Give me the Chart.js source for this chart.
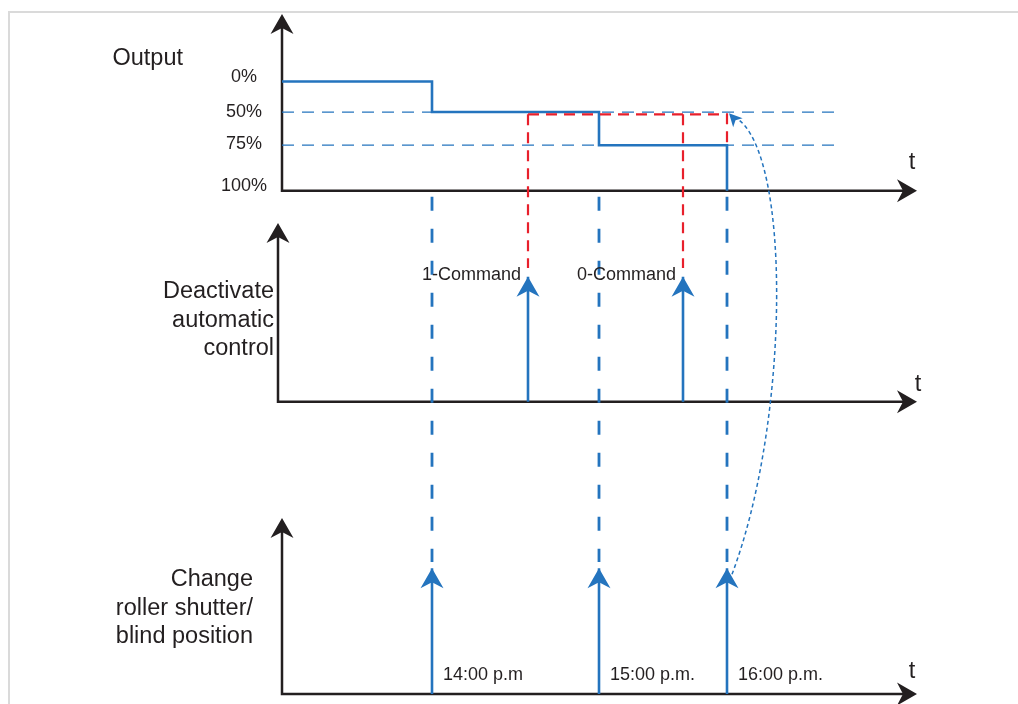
<!DOCTYPE html>
<html>
<head>
<meta charset="utf-8">
<script src="https://cdn.jsdelivr.net/npm/chart.js@4/dist/chart.umd.min.js"></script>
<style>
  html, body { margin: 0; padding: 0; background: #fff; }
  canvas { display: block; }
</style>
</head>
<body>
<canvas id="diagram" width="1018" height="704"></canvas>
<script>
// the drawing is schematic: t and the output axis are not to scale,
// so positions below are read off the picture in "diagram units"
const levelLabels = ['0%', '50%', '75%', '100%'];
const levelHeights = [3.4, 2.45, 1.42, 0];

const outputTimes = [0, 3.0, 6.34, 8.9];
const outputLevels = ['0%', '50%', '75%', '100%'];

const guideLevels = ['50%', '75%'];
const guideEnd = 11.12;

const eventTimes = [3.0, 6.34, 8.9];
const eventLabels = ['14:00 p.m', '15:00 p.m.', '16:00 p.m.'];

const commandTimes = [4.92, 8.02];
const commandLabels = ['1-Command', '0-Command'];

// red dashed: position held after the 1-Command, until 16:00
const holdLevel = 2.38;
const holdEnd = 8.9;

const BLUE = '#2474be';
const RED = '#e8202c';
const INK = '#231f20';
const FONT = '"Liberation Sans", Arial, sans-serif';

const heightOf = lbl => levelHeights[levelLabels.indexOf(lbl)];

const datasets = [];

guideLevels.forEach(l => {
    datasets.push({
        data: [{x: 0, y: heightOf(l)}, {x: guideEnd, y: heightOf(l)}],
        yAxisID: 'yOut', borderColor: BLUE, borderWidth: 1.3, borderDash: [12, 8]
    });
});

datasets.push({
    data: [{x: commandTimes[0], y: holdLevel}, {x: holdEnd, y: holdLevel}, {x: holdEnd, y: heightOf('75%')}],
    yAxisID: 'yOut', borderColor: RED, borderWidth: 2.2, borderDash: [11, 7]
});

datasets.push({
    data: outputTimes.map((t, i) => ({x: t, y: heightOf(outputLevels[i])})),
    yAxisID: 'yOut', borderColor: BLUE, borderWidth: 2.6, stepped: true
});

commandTimes.forEach(t => {
    datasets.push({
        data: [{x: t, y: 0}, {x: t, y: 1}],
        yAxisID: 'yCmd', borderColor: BLUE, borderWidth: 2.6, arrow: true
    });
});

eventTimes.forEach(t => {
    datasets.push({
        data: [{x: t, y: 0}, {x: t, y: 1}],
        yAxisID: 'yPos', borderColor: BLUE, borderWidth: 2.6, arrow: true
    });
});

function head(ctx, x, y, angle, len, half, notch, color) {
    ctx.save();
    ctx.translate(x, y);
    ctx.rotate(angle);
    ctx.beginPath();
    ctx.moveTo(0, 0);
    ctx.lineTo(-len, -half);
    ctx.lineTo(-len + notch, 0);
    ctx.lineTo(-len, half);
    ctx.closePath();
    ctx.fillStyle = color;
    ctx.fill();
    ctx.restore();
}

function dashed(ctx, x, y1, y2, color, width, dash) {
    ctx.save();
    ctx.strokeStyle = color;
    ctx.lineWidth = width;
    ctx.setLineDash(dash);
    ctx.beginPath();
    ctx.moveTo(x, y1);
    ctx.lineTo(x, y2);
    ctx.stroke();
    ctx.restore();
}

const diagram = {
    id: 'diagram',
    beforeDatasetsDraw(chart) {
        const {ctx} = chart;
        const {x, yOut, yCmd, yPos} = chart.scales;
        ctx.save();

        // frame
        ctx.strokeStyle = '#dadada';
        ctx.lineWidth = 2;
        ctx.beginPath();
        ctx.moveTo(9, chart.height);
        ctx.lineTo(9, 12);
        ctx.lineTo(chart.width, 12);
        ctx.stroke();

        const right = x.getPixelForValue(x.max);
        const axes = [[yOut, 0, -5, -28], [yCmd, -4, 1, -17], [yPos, 0, -5, -22]];
        axes.forEach(([s, dx, tx, ty]) => {
            const x0 = x.getPixelForValue(0) + dx;
            const y0 = s.getPixelForValue(0);
            const top = s.getPixelForValue(s.max);
            ctx.strokeStyle = INK;
            ctx.lineWidth = 2.5;
            ctx.beginPath();
            ctx.moveTo(x0, top + 12);
            ctx.lineTo(x0, y0);
            ctx.lineTo(right - 12, y0);
            ctx.stroke();
            head(ctx, x0, top, -Math.PI / 2, 20, 11.5, 6, INK);
            head(ctx, right, y0, 0, 20, 11.5, 6, INK);
            ctx.fillStyle = INK;
            ctx.font = '23.5px ' + FONT;
            ctx.textAlign = 'center';
            ctx.textBaseline = 'middle';
            ctx.fillText('t', right + tx, y0 + ty);
        });

        // panel titles
        const x0 = x.getPixelForValue(0);
        const titles = [
            [yOut, ['Output'], -99, 4.1],
            [yCmd, ['Deactivate', 'automatic', 'control'], -8, 0.65],
            [yPos, ['Change', 'roller shutter/', 'blind position'], -29, 0.68]
        ];
        ctx.textAlign = 'right';
        titles.forEach(([s, lines, dx, mid]) => {
            const cy = s.getPixelForValue(mid);
            lines.forEach((ln, i) => {
                ctx.fillText(ln, x0 + dx, cy + (i - (lines.length - 1) / 2) * 28.5);
            });
        });

        // output ticks (labels sit a little above the extreme lines)
        const nudge = [-4, 0, -1, -5];
        ctx.font = '18px ' + FONT;
        ctx.textAlign = 'center';
        levelLabels.forEach((l, i) => {
            ctx.fillText(l, x0 - 38, yOut.getPixelForValue(levelHeights[i]) + nudge[i]);
        });
        ctx.restore();
    },
    afterDatasetsDraw(chart) {
        const {ctx} = chart;
        const {x, yOut, yCmd, yPos} = chart.scales;
        ctx.save();

        // red connectors from the held position down to the commands
        commandTimes.forEach(t => {
            dashed(ctx, x.getPixelForValue(t), yOut.getPixelForValue(holdLevel), yCmd.getPixelForValue(1.07), RED, 2.2, [11, 7]);
        });

        // blue connectors from the output axis down to the position changes
        eventTimes.forEach(t => {
            dashed(ctx, x.getPixelForValue(t), yOut.getPixelForValue(0) + 6, yPos.getPixelForValue(1.05), BLUE, 2.8, [14, 18]);
        });

        // arrowheads on the event arrows
        chart.data.datasets.forEach((ds, i) => {
            if (!ds.arrow) return;
            const tip = chart.getDatasetMeta(i).data[1];
            head(ctx, tip.x, tip.y, -Math.PI / 2, 20, 11.5, 6, BLUE);
        });

        ctx.fillStyle = INK;
        ctx.font = '18px ' + FONT;
        ctx.textBaseline = 'middle';
        ctx.textAlign = 'right';
        commandTimes.forEach((t, i) => {
            ctx.fillText(commandLabels[i], x.getPixelForValue(t) - 7, yCmd.getPixelForValue(1) - 2);
        });
        ctx.textAlign = 'left';
        eventTimes.forEach((t, i) => {
            ctx.fillText(eventLabels[i], x.getPixelForValue(t) + 11, yPos.getPixelForValue(0) - 19);
        });

        // dotted curve: 16:00 change sent back to the held position
        const xe = x.getPixelForValue(eventTimes[2]);
        const p0 = [xe + 5, yPos.getPixelForValue(1) + 6];
        const c1 = [xe + 63, yCmd.getPixelForValue(-0.15)];
        const c2 = [xe + 65, yOut.getPixelForValue(1.3)];
        const p3 = [xe + 2, yOut.getPixelForValue(holdLevel) - 1];
        ctx.strokeStyle = BLUE;
        ctx.lineWidth = 1.5;
        ctx.setLineDash([4, 3]);
        ctx.beginPath();
        ctx.moveTo(p0[0], p0[1]);
        ctx.bezierCurveTo(c1[0], c1[1], c2[0], c2[1], p3[0] + 6, p3[1] + 4);
        ctx.stroke();
        ctx.setLineDash([]);
        head(ctx, p3[0], p3[1], Math.atan2(p3[1] - c2[1], p3[0] - c2[0]) + 0.3, 13, 6.5, 3.5, BLUE);
        ctx.restore();
    }
};

new Chart(document.getElementById('diagram'), {
    type: 'line',
    data: {datasets},
    options: {
        responsive: false,
        animation: false,
        events: [],
        layout: {padding: {left: 282, right: 101, top: 14, bottom: 10}},
        elements: {point: {radius: 0}},
        plugins: {legend: {display: false}, tooltip: {enabled: false}},
        scales: {
            x: {type: 'linear', min: 0, max: 12.7, display: false},
            yOut: {type: 'linear', min: -1, max: 5.5, display: false, position: 'left', stack: 'rows', stackWeight: 209, weight: 3},
            yCmd: {type: 'linear', min: -0.93, max: 1.43, display: false, position: 'left', stack: 'rows', stackWeight: 295, weight: 2},
            yPos: {type: 'linear', min: 0, max: 1.4, display: false, position: 'left', stack: 'rows', stackWeight: 176, weight: 1}
        }
    },
    plugins: [diagram]
});
</script>
</body>
</html>
